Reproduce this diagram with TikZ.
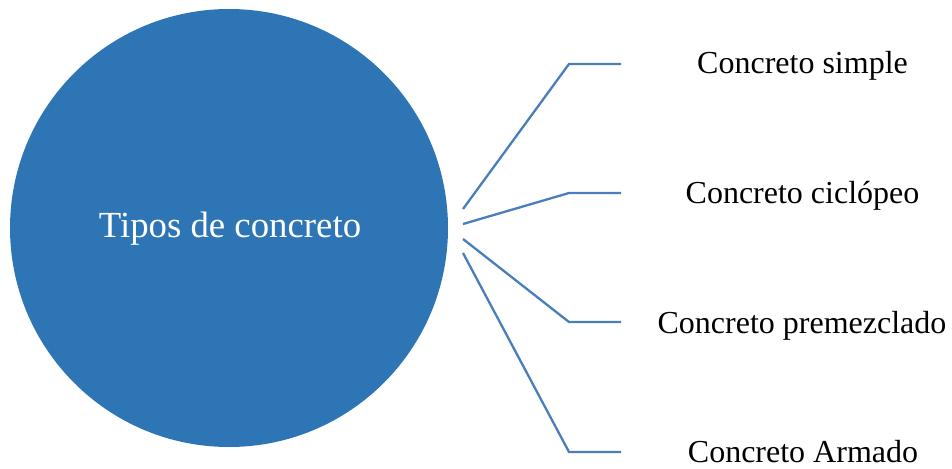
\documentclass[tikz,border=0pt]{standalone}
\usepackage{fontspec}
\setmainfont{Liberation Serif}
\definecolor{circblue}{HTML}{2E75B6}
\definecolor{lineblue}{HTML}{4A7EBB}
\begin{document}
\begin{tikzpicture}[x=1pt,y=-1pt,
  conn/.style={draw=lineblue,line width=2.3pt,line join=miter},
  item/.style={anchor=base,inner sep=0pt,font=\fontsize{32}{38}\selectfont},
  hub/.style={circle,fill=circblue,minimum size=438pt,inner sep=0pt}]
\useasboundingbox (0,0) rectangle (952,468);
\node[hub] (c) at (229,228) {};
\node[anchor=base,inner sep=0pt,text=white,font=\fontsize{36.8}{42}\selectfont] (t) at (230,237.7) {Tipos de concreto};
\node[item] (n1) at (802.5,73.5) {Concreto simple};
\node[item] (n2) at (802.5,203) {Concreto ciclópeo};
\node[item] (n3) at (802,333) {Concreto premezclado};
\node[item] (n4) at (803,462.5) {Concreto Armado};
\coordinate (s1) at (463,209);
\coordinate (s2) at (463,224);
\coordinate (s3) at (463,239);
\coordinate (s4) at (463,253);
\coordinate (k1) at (569,64);
\coordinate (k2) at (569,193);
\coordinate (k3) at (569,322);
\coordinate (k4) at (569,452);
\coordinate (e1) at (621,64);
\coordinate (e2) at (621,193);
\coordinate (e3) at (621,322);
\coordinate (e4) at (621,452);
\draw[conn] (s1) -- (k1) -- (e1);
\draw[conn] (s2) -- (k2) -- (e2);
\draw[conn] (s3) -- (k3) -- (e3);
\draw[conn] (s4) -- (k4) -- (e4);
\end{tikzpicture}
\end{document}
